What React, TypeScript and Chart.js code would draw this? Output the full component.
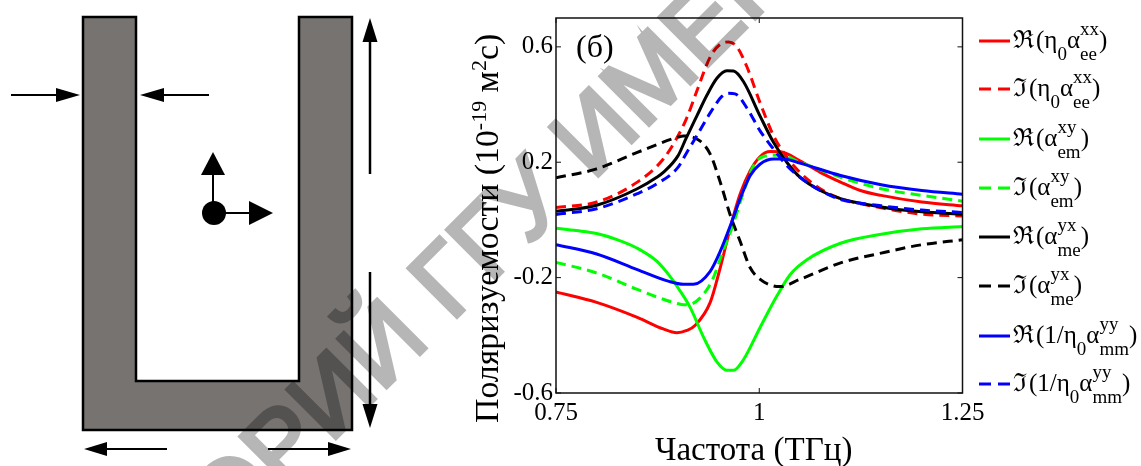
import React, { useEffect, useRef } from "react";
import { Chart, registerables } from "chart.js";

Chart.register(...registerables);

const SERIF = '"Liberation Serif", "Times New Roman", serif';

const xTicks = [0.75, 1, 1.25];
const yTicks = [-0.6, -0.2, 0.2, 0.6];

const reEeF = [0.75, 0.8, 0.85, 0.882, 0.8986, 0.9109, 0.921, 0.9397, 0.952, 0.9663, 0.9766, 0.9889, 1.0012, 1.0135, 1.0259, 1.05, 1.075, 1.1, 1.1244, 1.15, 1.2, 1.25];
const reEeV = [-0.25, -0.286, -0.338, -0.378, -0.391, -0.383, -0.366, -0.286, -0.166, -0.006, 0.091, 0.171, 0.22, 0.237, 0.236, 0.205, 0.165, 0.131, 0.102, 0.085, 0.062, 0.049];

const imEeF = [0.75, 0.8, 0.85, 0.882, 0.9, 0.9109, 0.923, 0.9397, 0.952, 0.9622, 0.9725, 0.9848, 1.0012, 1.0177, 1.0341, 1.05, 1.075, 1.1, 1.15, 1.2, 1.25];
const imEeV = [0.043, 0.062, 0.131, 0.211, 0.291, 0.354, 0.445, 0.565, 0.609, 0.617, 0.6, 0.531, 0.405, 0.291, 0.217, 0.165, 0.108, 0.074, 0.042, 0.02, 0.014];

const reEmF = [0.75, 0.775, 0.8, 0.825, 0.85, 0.874, 0.89, 0.9, 0.915, 0.9314, 0.9479, 0.9602, 0.9684, 0.9807, 1.0012, 1.0218, 1.0382, 1.0587, 1.1, 1.15, 1.2, 1.25];
const reEmV = [-0.029, -0.037, -0.047, -0.068, -0.098, -0.143, -0.195, -0.235, -0.303, -0.406, -0.492, -0.521, -0.521, -0.484, -0.372, -0.263, -0.189, -0.138, -0.081, -0.05, -0.031, -0.023];

const imEmF = [0.75, 0.8, 0.85, 0.882, 0.9027, 0.913, 0.927, 0.9417, 0.954, 0.9676, 0.9807, 0.993, 1.0053, 1.0259, 1.05, 1.1, 1.15, 1.2, 1.25];
const imEmV = [-0.147, -0.184, -0.241, -0.275, -0.292, -0.294, -0.271, -0.212, -0.12, -0.018, 0.097, 0.188, 0.22, 0.225, 0.2, 0.148, 0.108, 0.085, 0.065];

const reMeF = [0.75, 0.8, 0.85, 0.874, 0.882, 0.9, 0.9097, 0.923, 0.9356, 0.9479, 0.9602, 0.9684, 0.9807, 1.0012, 1.0177, 1.0341, 1.05, 1.075, 1.1, 1.15, 1.2, 1.25];
const reMeV = [0.03, 0.051, 0.108, 0.148, 0.165, 0.222, 0.281, 0.359, 0.432, 0.491, 0.517, 0.516, 0.479, 0.359, 0.268, 0.199, 0.148, 0.102, 0.074, 0.045, 0.028, 0.02];

const imMeF = [0.75, 0.8, 0.85, 0.9, 0.9068, 0.927, 0.9397, 0.952, 0.9643, 0.9766, 0.9889, 1.0012, 1.0177, 1.0259, 1.05, 1.1, 1.15, 1.2, 1.25];
const imMeV = [0.146, 0.177, 0.234, 0.287, 0.291, 0.274, 0.228, 0.131, 0.017, -0.075, -0.166, -0.206, -0.229, -0.231, -0.206, -0.149, -0.115, -0.086, -0.069];

const reMmF = [0.75, 0.8, 0.85, 0.89, 0.9068, 0.919, 0.9397, 0.952, 0.9663, 0.9766, 0.9889, 1.0012, 1.0177, 1.03, 1.05, 1.1, 1.15, 1.2, 1.25];
const reMmV = [-0.086, -0.118, -0.172, -0.214, -0.223, -0.223, -0.178, -0.109, -0.006, 0.074, 0.154, 0.194, 0.211, 0.211, 0.197, 0.154, 0.122, 0.102, 0.089];

const imMmF = [0.75, 0.8, 0.85, 0.874, 0.9, 0.9109, 0.923, 0.9397, 0.954, 0.9622, 0.9704, 0.9848, 1.0012, 1.0177, 1.0341, 1.05, 1.075, 1.1, 1.15, 1.2, 1.25];
const imMmV = [0.019, 0.039, 0.091, 0.125, 0.182, 0.234, 0.291, 0.371, 0.428, 0.439, 0.437, 0.388, 0.308, 0.245, 0.188, 0.148, 0.102, 0.071, 0.049, 0.034, 0.026];

type Seg = { t?: string; sup?: string; sub?: string };
const legendRows: Seg[][] = [
  [{ t: "\u211C" }, { t: "(\u03B7" }, { sub: "0" }, { t: "\u03B1" }, { sup: "xx", sub: "ee" }, { t: ")" }],
  [{ t: "\u2111" }, { t: "(\u03B7" }, { sub: "0" }, { t: "\u03B1" }, { sup: "xx", sub: "ee" }, { t: ")" }],
  [{ t: "\u211C" }, { t: "(\u03B1" }, { sup: "xy", sub: "em" }, { t: ")" }],
  [{ t: "\u2111" }, { t: "(\u03B1" }, { sup: "xy", sub: "em" }, { t: ")" }],
  [{ t: "\u211C" }, { t: "(\u03B1" }, { sup: "yx", sub: "me" }, { t: ")" }],
  [{ t: "\u2111" }, { t: "(\u03B1" }, { sup: "yx", sub: "me" }, { t: ")" }],
  [{ t: "\u211C" }, { t: "(1/\u03B7" }, { sub: "0" }, { t: "\u03B1" }, { sup: "yy", sub: "mm" }, { t: ")" }],
  [{ t: "\u2111" }, { t: "(1/\u03B7" }, { sub: "0" }, { t: "\u03B1" }, { sup: "yy", sub: "mm" }, { t: ")" }],
];
const legendNames = ["Re(η0 αee xx)", "Im(η0 αee xx)", "Re(αem xy)", "Im(αem xy)", "Re(αme yx)", "Im(αme yx)", "Re(1/η0 αmm yy)", "Im(1/η0 αmm yy)"];
const legendY = [41, 89, 139, 188, 237, 286, 336, 384];

const watermarkHead = "РЕПОЗИТОРИЙ ";
const watermarkTail = "ГГУ ИМЕНИ Ф. СКОРИНЫ";
const panelLabel = "(б)";
const xTitle = "Частота (ТГц)";
const yTitleParts: Seg[] = [{ t: "Поляризуемости (10" }, { sup: "-19" }, { t: " м" }, { sup: "2" }, { t: "с)" }];

function arrow(c: CanvasRenderingContext2D, x0: number, y0: number, x1: number, y1: number, len: number, hw: number, lw = 2) {
  const a = Math.atan2(y1 - y0, x1 - x0);
  const bx = x1 - len * Math.cos(a);
  const by = y1 - len * Math.sin(a);
  c.strokeStyle = "#000";
  c.fillStyle = "#000";
  c.lineWidth = lw;
  c.beginPath();
  c.moveTo(x0, y0);
  c.lineTo(bx, by);
  c.stroke();
  c.beginPath();
  c.moveTo(x1, y1);
  c.lineTo(bx - hw * Math.sin(a), by + hw * Math.cos(a));
  c.lineTo(bx + hw * Math.sin(a), by - hw * Math.cos(a));
  c.closePath();
  c.fill();
}

const diagramPlugin = {
  id: "diagram",
  beforeDraw(chart: any) {
    const c: CanvasRenderingContext2D = chart.ctx;
    c.save();
    c.fillStyle = "#fff";
    c.fillRect(0, 0, chart.width, chart.height);
    c.beginPath();
    c.moveTo(83, 17);
    c.lineTo(136, 17);
    c.lineTo(136, 381);
    c.lineTo(299, 381);
    c.lineTo(299, 17);
    c.lineTo(352, 17);
    c.lineTo(352, 430);
    c.lineTo(83, 430);
    c.closePath();
    c.fillStyle = "#767371";
    c.fill();
    c.strokeStyle = "#000";
    c.lineWidth = 2.5;
    c.stroke();
    arrow(c, 11, 95, 80, 95, 24, 7);
    arrow(c, 209, 95, 140, 95, 24, 7);
    arrow(c, 370, 174, 370, 18, 24, 7.5, 2.5);
    arrow(c, 370, 272, 370, 428, 24, 7.5, 2.5);
    arrow(c, 167, 449, 84, 449, 23, 7);
    arrow(c, 268, 449, 351, 449, 23, 7);
    arrow(c, 213, 213, 213, 152, 23, 12);
    arrow(c, 214, 213, 273, 213, 24, 12);
    c.beginPath();
    c.arc(214, 213, 12, 0, Math.PI * 2);
    c.fillStyle = "#000";
    c.fill();
    c.restore();
  },
};

const overlayPlugin = {
  id: "overlay",
  afterDraw(chart: any) {
    const c: CanvasRenderingContext2D = chart.ctx;
    const { left, right, top, bottom } = chart.chartArea;
    c.save();
    // frame and inward ticks
    c.strokeStyle = "#111";
    c.lineWidth = 1.5;
    c.strokeRect(left, top, right - left, bottom - top);
    c.lineWidth = 1;
    c.beginPath();
    chart.scales.y.ticks.forEach((t: any) => {
      const p = chart.scales.y.getPixelForValue(t.value);
      c.moveTo(left, p);
      c.lineTo(left + 5, p);
      c.moveTo(right, p);
      c.lineTo(right - 5, p);
    });
    chart.scales.x.ticks.forEach((t: any) => {
      const p = chart.scales.x.getPixelForValue(t.value);
      c.moveTo(p, bottom);
      c.lineTo(p, bottom - 5);
      c.moveTo(p, top);
      c.lineTo(p, top + 5);
    });
    c.stroke();

    c.fillStyle = "#000";
    c.textBaseline = "alphabetic";
    c.textAlign = "left";

    // panel label
    c.font = `32px ${SERIF}`;
    c.fillText(panelLabel, 576, 57);

    // axis titles
    c.font = `33px ${SERIF}`;
    c.fillText(xTitle, 655, 460);
    c.save();
    c.translate(498, 423);
    c.rotate(-Math.PI / 2);
    let ty = 0;
    yTitleParts.forEach((s) => {
      if (s.t) {
        c.font = `33.8px ${SERIF}`;
        c.fillText(s.t, ty, 0);
        ty += c.measureText(s.t).width;
      } else if (s.sup) {
        c.font = `22px ${SERIF}`;
        c.fillText(s.sup, ty, -12);
        ty += c.measureText(s.sup).width;
      }
    });
    c.restore();

    // legend
    const main = `25px ${SERIF}`;
    const small = `19px ${SERIF}`;
    chart.data.datasets.forEach((ds: any, i: number) => {
      const y = legendY[i];
      c.strokeStyle = ds.borderColor;
      c.lineWidth = 3;
      c.setLineDash(ds.borderDash && ds.borderDash.length ? [12, 7] : []);
      c.beginPath();
      c.moveTo(979, y);
      c.lineTo(1010, y);
      c.stroke();
      c.setLineDash([]);
      let x = 1013;
      c.fillStyle = "#000";
      legendRows[i].forEach((s, k) => {
        if (s.t) {
          c.font = main;
          c.fillText(s.t, x, y + 7);
          x += c.measureText(s.t).width + (k === 0 ? 2 : 0);
        } else {
          c.font = small;
          let w = 0;
          if (s.sup) {
            c.fillText(s.sup, x, y - 6);
            w = Math.max(w, c.measureText(s.sup).width);
          }
          if (s.sub) {
            c.fillText(s.sub, x, y + 19);
            w = Math.max(w, c.measureText(s.sub).width);
          }
          x += w;
        }
      });
    });
    c.restore();

    // watermark: a thickened text layer multiplied over everything
    const layer = document.createElement("canvas");
    layer.width = chart.width;
    layer.height = chart.height;
    const w = layer.getContext("2d") as CanvasRenderingContext2D;
    w.fillStyle = "#fff";
    w.fillRect(0, 0, layer.width, layer.height);
    w.translate(457, 317);
    w.rotate((-45 * Math.PI) / 180);
    w.font = `100px "Liberation Sans", sans-serif`;
    w.fillStyle = "#b6b6b6";
    w.strokeStyle = "#b6b6b6";
    w.lineWidth = 4;
    w.lineJoin = "miter";
    const off = w.measureText(watermarkHead).width;
    w.strokeText(watermarkHead + watermarkTail, -off - 8, 0);
    w.fillText(watermarkHead + watermarkTail, -off - 8, 0);
    c.save();
    c.globalCompositeOperation = "multiply";
    c.drawImage(layer, 0, 0);
    c.restore();
  },
};

function makeSet(label: string, f: number[], v: number[], color: string, dashed: boolean, order: number) {
  return {
    label,
    data: f.map((x, i) => ({ x, y: v[i] })),
    borderColor: color,
    borderWidth: 3,
    borderDash: dashed ? [10, 6] : [],
    pointRadius: 0,
    cubicInterpolationMode: "monotone" as const,
    fill: false,
    order,
  };
}

export default function App() {
  const ref = useRef<HTMLCanvasElement>(null);
  useEffect(() => {
    document.body.style.margin = "0";
    const chart = new Chart(ref.current as HTMLCanvasElement, {
      type: "line",
      data: {
        datasets: [
          makeSet(legendNames[0], reEeF, reEeV, "#ff0000", false, 8),
          makeSet(legendNames[1], imEeF, imEeV, "#ff0000", true, 7),
          makeSet(legendNames[2], reEmF, reEmV, "#00ff00", false, 6),
          makeSet(legendNames[3], imEmF, imEmV, "#00ff00", true, 5),
          makeSet(legendNames[4], reMeF, reMeV, "#000000", false, 4),
          makeSet(legendNames[5], imMeF, imMeV, "#000000", true, 3),
          makeSet(legendNames[6], reMmF, reMmV, "#0000ff", false, 2),
          makeSet(legendNames[7], imMmF, imMmV, "#0000ff", true, 1),
        ],
      },
      options: {
        responsive: false,
        animation: false,
        layout: { padding: { left: 472, top: 14, right: 178.5, bottom: 0 } },
        plugins: { legend: { display: false }, tooltip: { enabled: false } },
        scales: {
          x: {
            type: "linear",
            min: 0.75,
            max: 1.25,
            afterBuildTicks: (s: any) => {
              s.ticks = xTicks.map((value) => ({ value }));
            },
            afterFit: (s: any) => {
              s.height = 73;
            },
            grid: { display: false, drawTicks: false },
            border: { display: false },
            ticks: {
              autoSkip: false,
              maxRotation: 0,
              padding: 5,
              color: "#000",
              font: { family: SERIF, size: 25 },
              callback: (v: any) => String(v),
            },
          },
          y: {
            type: "linear",
            min: -0.6,
            max: 0.7,
            afterBuildTicks: (s: any) => {
              s.ticks = yTicks.map((value) => ({ value }));
            },
            afterFit: (s: any) => {
              s.width = 84;
            },
            grid: { display: false, drawTicks: false },
            border: { display: false },
            ticks: {
              autoSkip: false,
              padding: 3,
              color: "#000",
              font: { family: SERIF, size: 25 },
              callback: (v: any) => Number(v).toFixed(1),
            },
          },
        },
      },
      plugins: [diagramPlugin, overlayPlugin],
    } as any);
    return () => chart.destroy();
  }, []);
  return <canvas ref={ref} width={1141} height={466} style={{ display: "block", position: "fixed", left: 0, top: 0 }} />;
}
